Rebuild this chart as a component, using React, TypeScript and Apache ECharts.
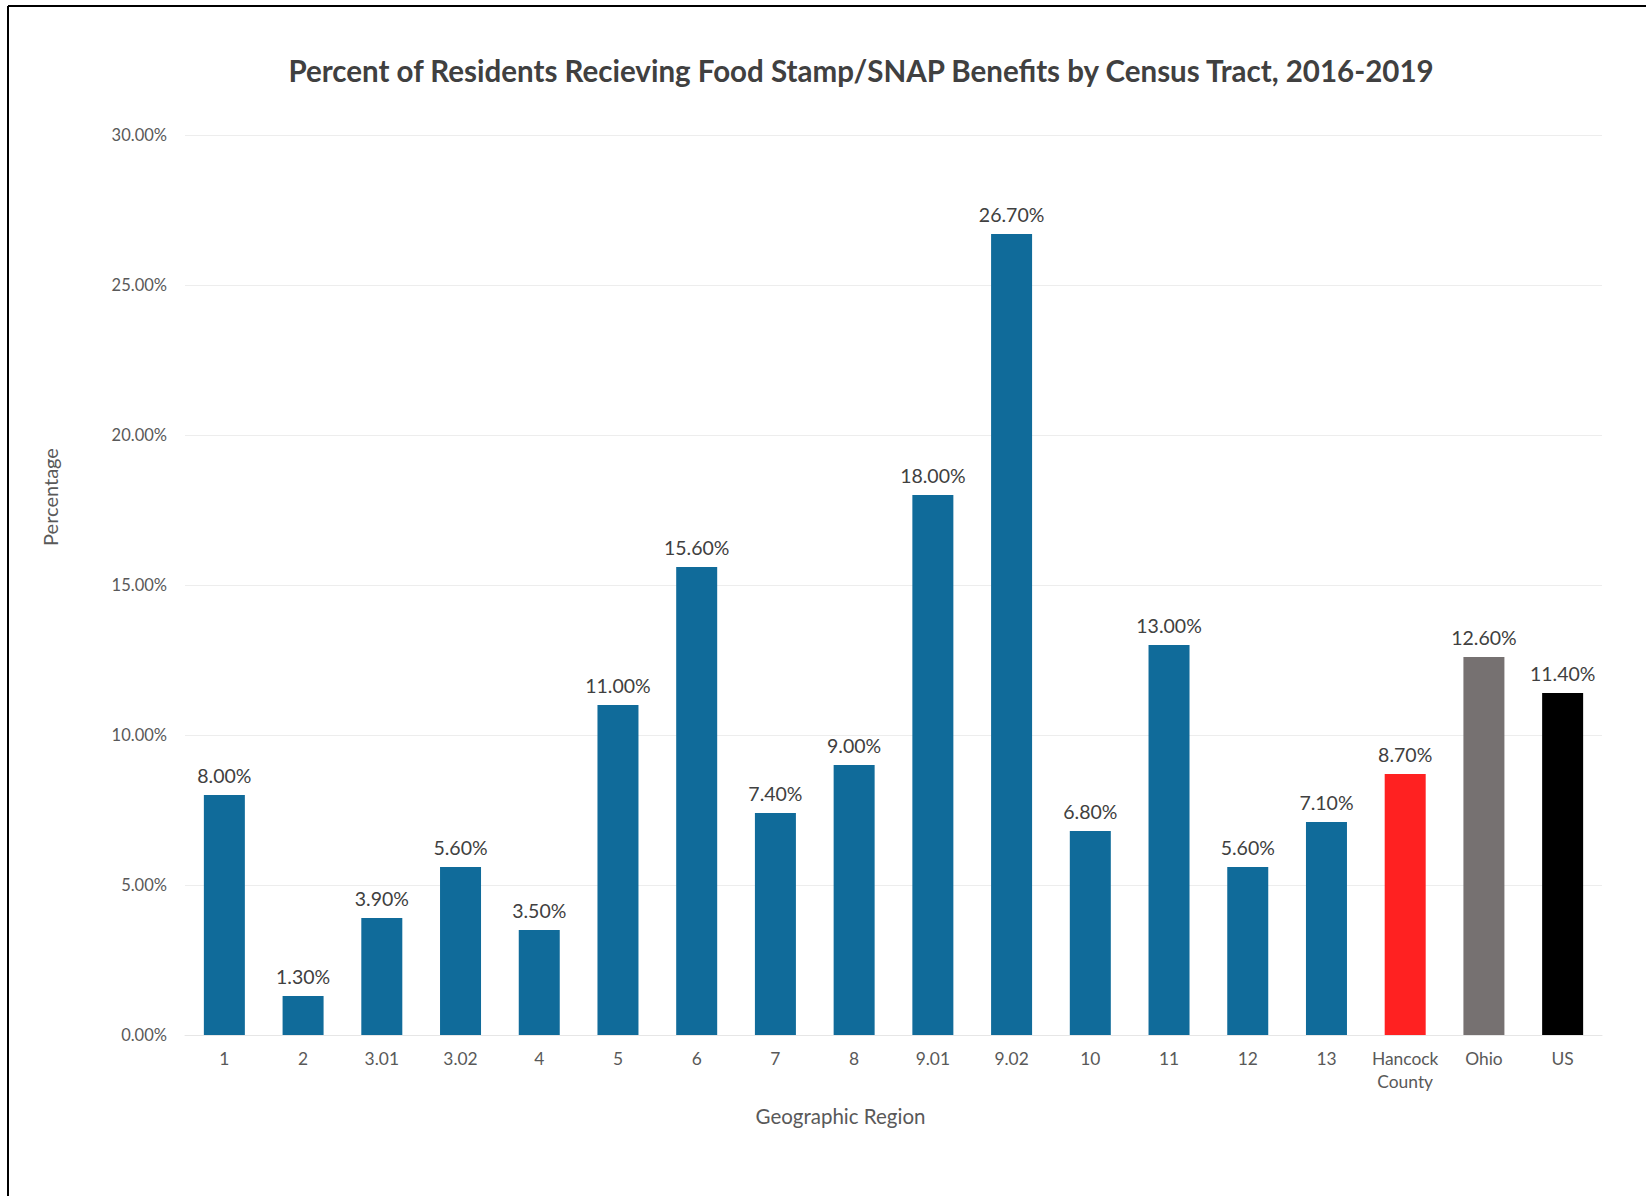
import React, { useEffect, useRef } from "react";
import * as echarts from "echarts";

const categories = ["1", "2", "3.01", "3.02", "4", "5", "6", "7", "8", "9.01", "9.02", "10", "11", "12", "13", "Hancock\nCounty", "Ohio", "US"];
const values = [8.0, 1.3, 3.9, 5.6, 3.5, 11.0, 15.6, 7.4, 9.0, 18.0, 26.7, 6.8, 13.0, 5.6, 7.1, 8.7, 12.6, 11.4];
const barColors = ["#106B9A", "#106B9A", "#106B9A", "#106B9A", "#106B9A", "#106B9A", "#106B9A", "#106B9A", "#106B9A", "#106B9A", "#106B9A", "#106B9A", "#106B9A", "#106B9A", "#106B9A", "#FF2121", "#767171", "#000000"];
const titleText = "Percent of Residents Recieving Food Stamp/SNAP Benefits by Census Tract, 2016-2019";
const xAxisName = "Geographic Region";
const yAxisName = "Percentage";

const FONT = "Lato, 'Noto Sans', sans-serif";

export default function App() {
  const ref = useRef<HTMLDivElement>(null);
  useEffect(() => {
    if (!ref.current) return;
    const chart = echarts.init(ref.current, null, { renderer: "svg" });
    chart.setOption({
      animation: false,
      backgroundColor: "#ffffff",
      textStyle: { fontFamily: FONT },
      title: {
        text: titleText,
        left: 856,
        textAlign: "center",
        top: 50,
        textStyle: { fontFamily: FONT, fontSize: 29.5, fontWeight: "bold", color: "#404040" },
      },
      graphic: [
        { type: "line", shape: { x1: 8, y1: 6, x2: 1646, y2: 6 }, style: { stroke: "#000", lineWidth: 2 } },
        { type: "line", shape: { x1: 8, y1: 6, x2: 8, y2: 1196 }, style: { stroke: "#000", lineWidth: 2 } },
      ],
      grid: { left: 185, right: 44, top: 135, bottom: 161, containLabel: false },
      xAxis: {
        type: "category",
        data: categories,
        name: xAxisName,
        nameLocation: "middle",
        nameGap: 70,
        nameTextStyle: { fontFamily: FONT, fontSize: 20.5, color: "#595959", padding: [0, 106, 0, 0] },
        axisLine: { show: true, lineStyle: { color: "#E6E6E6" } },
        axisTick: { show: false },
        axisLabel: { fontFamily: FONT, fontSize: 17.4, color: "#595959", margin: 12, lineHeight: 23, interval: 0 },
      },
      yAxis: {
        type: "value",
        min: 0,
        max: 30,
        interval: 5,
        name: yAxisName,
        nameLocation: "middle",
        nameGap: 125,
        nameTextStyle: { fontFamily: FONT, fontSize: 20, color: "#595959", padding: [0, 0, 0, 176] },
        axisLine: { show: false },
        axisTick: { show: false },
        axisLabel: {
          fontFamily: FONT,
          fontSize: 16.5,
          color: "#595959",
          margin: 18,
          formatter: (v: number) => v.toFixed(2) + "%",
        },
        splitLine: { lineStyle: { color: "#EDEDED", width: 1 } },
      },
      series: [
        {
          type: "bar",
          data: values.map((v, i) => ({ value: v, itemStyle: { color: barColors[i] } })),
          barWidth: 41,
          label: {
            show: true,
            position: "top",
            distance: 10,
            fontFamily: FONT,
            fontSize: 19.5,
            color: "#404040",
            formatter: (p: any) => Number(p.value).toFixed(2) + "%",
          },
        },
      ],
    });
    return () => chart.dispose();
  }, []);
  return <div ref={ref} style={{ position: "fixed", left: 0, top: 0, width: 1646, height: 1196 }} />;
}
